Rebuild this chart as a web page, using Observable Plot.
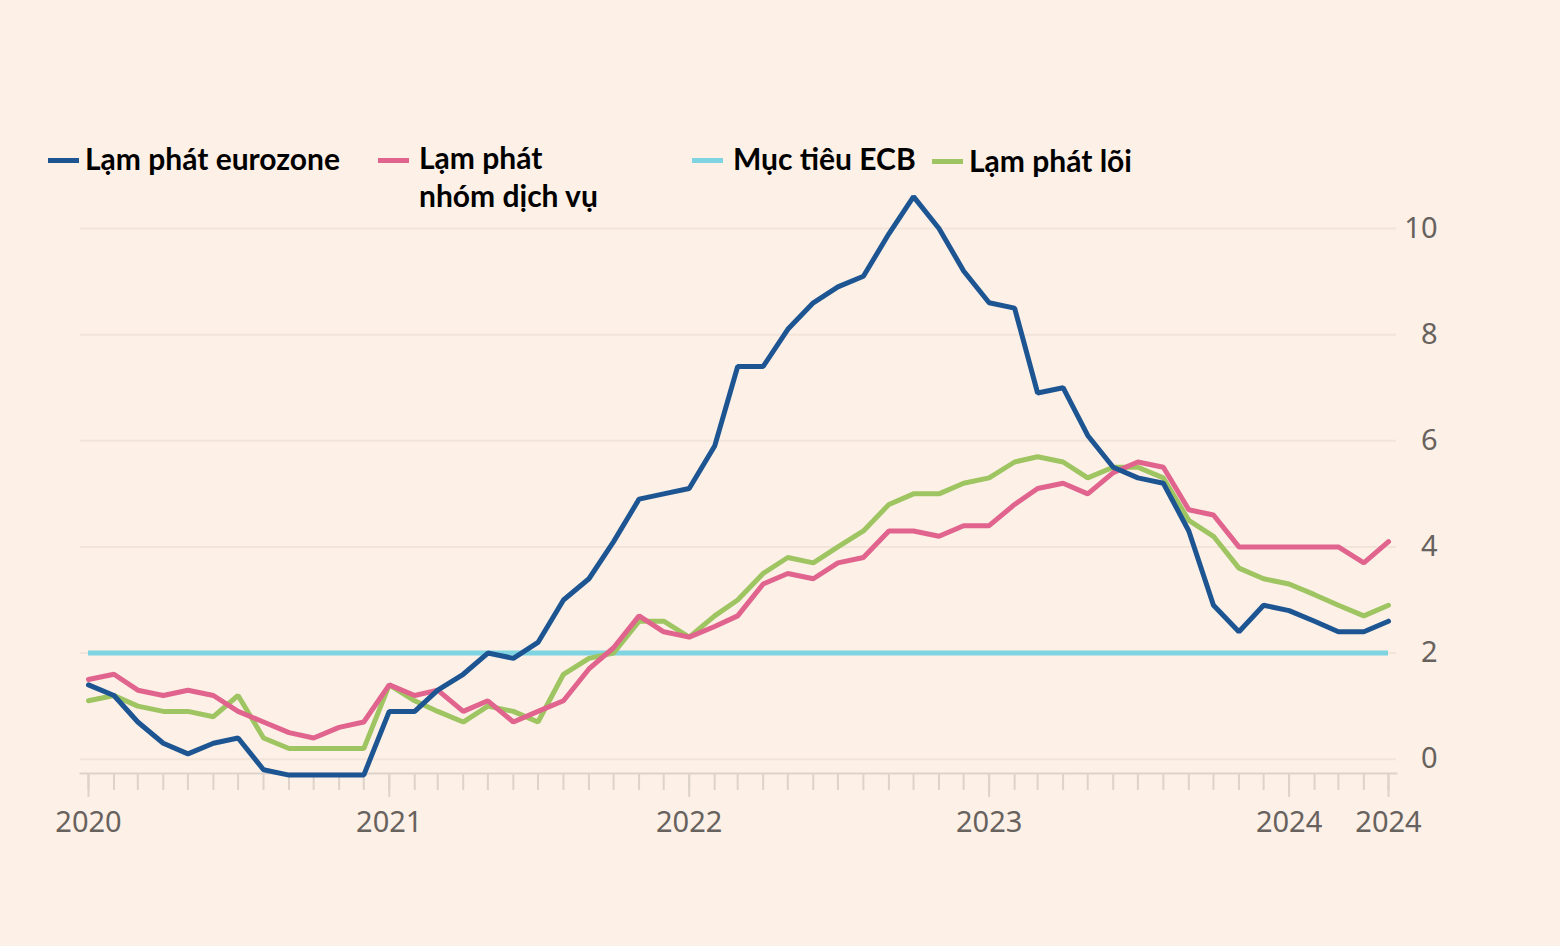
<!DOCTYPE html>
<html>
<head>
<meta charset="utf-8">
<script src="https://cdn.jsdelivr.net/npm/d3@7"></script>
<script src="https://cdn.jsdelivr.net/npm/@observablehq/plot@0.6"></script>
<style>
html, body { margin: 0; padding: 0; background: #fdf0e6; }
#wrap { position: relative; width: 1560px; height: 946px; overflow: hidden; }
.leg { position: absolute; font-family: Lato, "Noto Sans", sans-serif; font-weight: 700; font-size: 30px; color: #000; line-height: 38px; white-space: pre; }
.sw { position: absolute; height: 5px; width: 31px; }
</style>
</head>
<body>
<div id="wrap"></div>
<script>
// Monthly data, Jan 2020 – May 2024
const startMonth = "2020-01-01";
const monthCount = 53;

const eurozone = [
  1.4, 1.2, 0.7, 0.3, 0.1, 0.3, 0.4, -0.2, -0.3, -0.3, -0.3, -0.3,
  0.9, 0.9, 1.3, 1.6, 2.0, 1.9, 2.2, 3.0, 3.4, 4.1, 4.9, 5.0,
  5.1, 5.9, 7.4, 7.4, 8.1, 8.6, 8.9, 9.1, 9.9, 10.6, 10.0, 9.2,
  8.6, 8.5, 6.9, 7.0, 6.1, 5.5, 5.3, 5.2, 4.3, 2.9, 2.4, 2.9,
  2.8, 2.6, 2.4, 2.4, 2.6
];
const services = [
  1.5, 1.6, 1.3, 1.2, 1.3, 1.2, 0.9, 0.7, 0.5, 0.4, 0.6, 0.7,
  1.4, 1.2, 1.3, 0.9, 1.1, 0.7, 0.9, 1.1, 1.7, 2.1, 2.7, 2.4,
  2.3, 2.5, 2.7, 3.3, 3.5, 3.4, 3.7, 3.8, 4.3, 4.3, 4.2, 4.4,
  4.4, 4.8, 5.1, 5.2, 5.0, 5.4, 5.6, 5.5, 4.7, 4.6, 4.0, 4.0,
  4.0, 4.0, 4.0, 3.7, 4.1
];
const core = [
  1.1, 1.2, 1.0, 0.9, 0.9, 0.8, 1.2, 0.4, 0.2, 0.2, 0.2, 0.2,
  1.4, 1.1, 0.9, 0.7, 1.0, 0.9, 0.7, 1.6, 1.9, 2.0, 2.6, 2.6,
  2.3, 2.7, 3.0, 3.5, 3.8, 3.7, 4.0, 4.3, 4.8, 5.0, 5.0, 5.2,
  5.3, 5.6, 5.7, 5.6, 5.3, 5.5, 5.5, 5.3, 4.5, 4.2, 3.6, 3.4,
  3.3, 3.1, 2.9, 2.7, 2.9
];
const ecbTarget = 2;

const yTicks = [0, 2, 4, 6, 8, 10];
const xTickDates = ["2020-01-01", "2021-01-01", "2022-01-01", "2023-01-01", "2024-01-01", "2024-05-01"];
const xTickLabels = ["2020", "2021", "2022", "2023", "2024", "2024"];

const seriesNames = ["Lạm phát eurozone", "Lạm phát\nnhóm dịch vụ", "Mục tiêu ECB", "Lạm phát lõi"];
const seriesColors = ["#1d5593", "#e0648d", "#7fd4e1", "#9ec562"];

// build table
const start = new Date(startMonth);
const dates = d3.utcMonth.range(start, d3.utcMonth.offset(start, monthCount));
const table = dates.map((d, i) => ({date: d, eurozone: eurozone[i], services: services[i], core: core[i]}));
const tickDates = xTickDates.map(s => new Date(s));
const labelByTime = new Map(tickDates.map((d, i) => [+d, xTickLabels[i]]));

const axisColor = "#ddd3ca";
const labelColor = "#67625e";

const chart = Plot.plot({
  width: 1560,
  height: 946,
  marginLeft: 80,
  marginRight: 164,
  marginTop: 228,
  marginBottom: 173,
  style: {background: "transparent", fontFamily: "'Noto Sans', sans-serif", fontSize: "29px", overflow: "visible"},
  x: {type: "utc", domain: [dates[0], dates[dates.length - 1]], insetLeft: 8, insetRight: 8},
  y: {domain: [-0.27, 10]},
  marks: [
    Plot.gridY(yTicks, {stroke: "#f2e4d9", strokeOpacity: 1, strokeWidth: 2}),
    Plot.frame({anchor: "bottom", stroke: axisColor, strokeWidth: 2}),
    Plot.axisX({ticks: dates, tickSize: 17, tickFormat: () => "", stroke: axisColor, strokeWidth: 2, label: null}),
    Plot.axisX({ticks: tickDates, tickSize: 24, tickPadding: 14, tickFormat: d => labelByTime.get(+d),
      stroke: axisColor, strokeWidth: 2, fill: labelColor, fontSize: 29, label: null}),
    Plot.axisY({anchor: "right", ticks: yTicks, tickSize: 0, tickPadding: 41, textAnchor: "end",
      fill: labelColor, fontSize: 29, label: null}),
    Plot.ruleY([ecbTarget], {x1: dates[0], x2: dates[dates.length - 1], stroke: seriesColors[2], strokeWidth: 5}),
    Plot.lineY(table, {x: "date", y: "core", stroke: seriesColors[3], strokeWidth: 5, strokeLinejoin: "miter"}),
    Plot.lineY(table, {x: "date", y: "services", stroke: seriesColors[1], strokeWidth: 5, strokeLinejoin: "miter"}),
    Plot.lineY(table, {x: "date", y: "eurozone", stroke: seriesColors[0], strokeWidth: 5, strokeLinejoin: "miter"})
  ]
});
const wrap = document.getElementById("wrap");
wrap.appendChild(chart);
chart.style.position = "absolute";
chart.style.left = "0px";
chart.style.top = "0px";

// legend (HTML overlay)
const legendPos = [
  {sx: 48, tx: 85, top: 139, sy: 158},
  {sx: 378, tx: 419, top: 138, sy: 158},
  {sx: 692, tx: 733, top: 139, sy: 158},
  {sx: 932, tx: 969, top: 141, sy: 159}
];
seriesNames.forEach((name, i) => {
  const p = legendPos[i];
  const sw = document.createElement("div");
  sw.className = "sw";
  sw.style.left = p.sx + "px";
  sw.style.top = p.sy + "px";
  sw.style.background = seriesColors[i];
  wrap.appendChild(sw);
  const t = document.createElement("div");
  t.className = "leg";
  t.style.left = p.tx + "px";
  t.style.top = p.top + "px";
  t.textContent = name;
  wrap.appendChild(t);
});
</script>
</body>
</html>
